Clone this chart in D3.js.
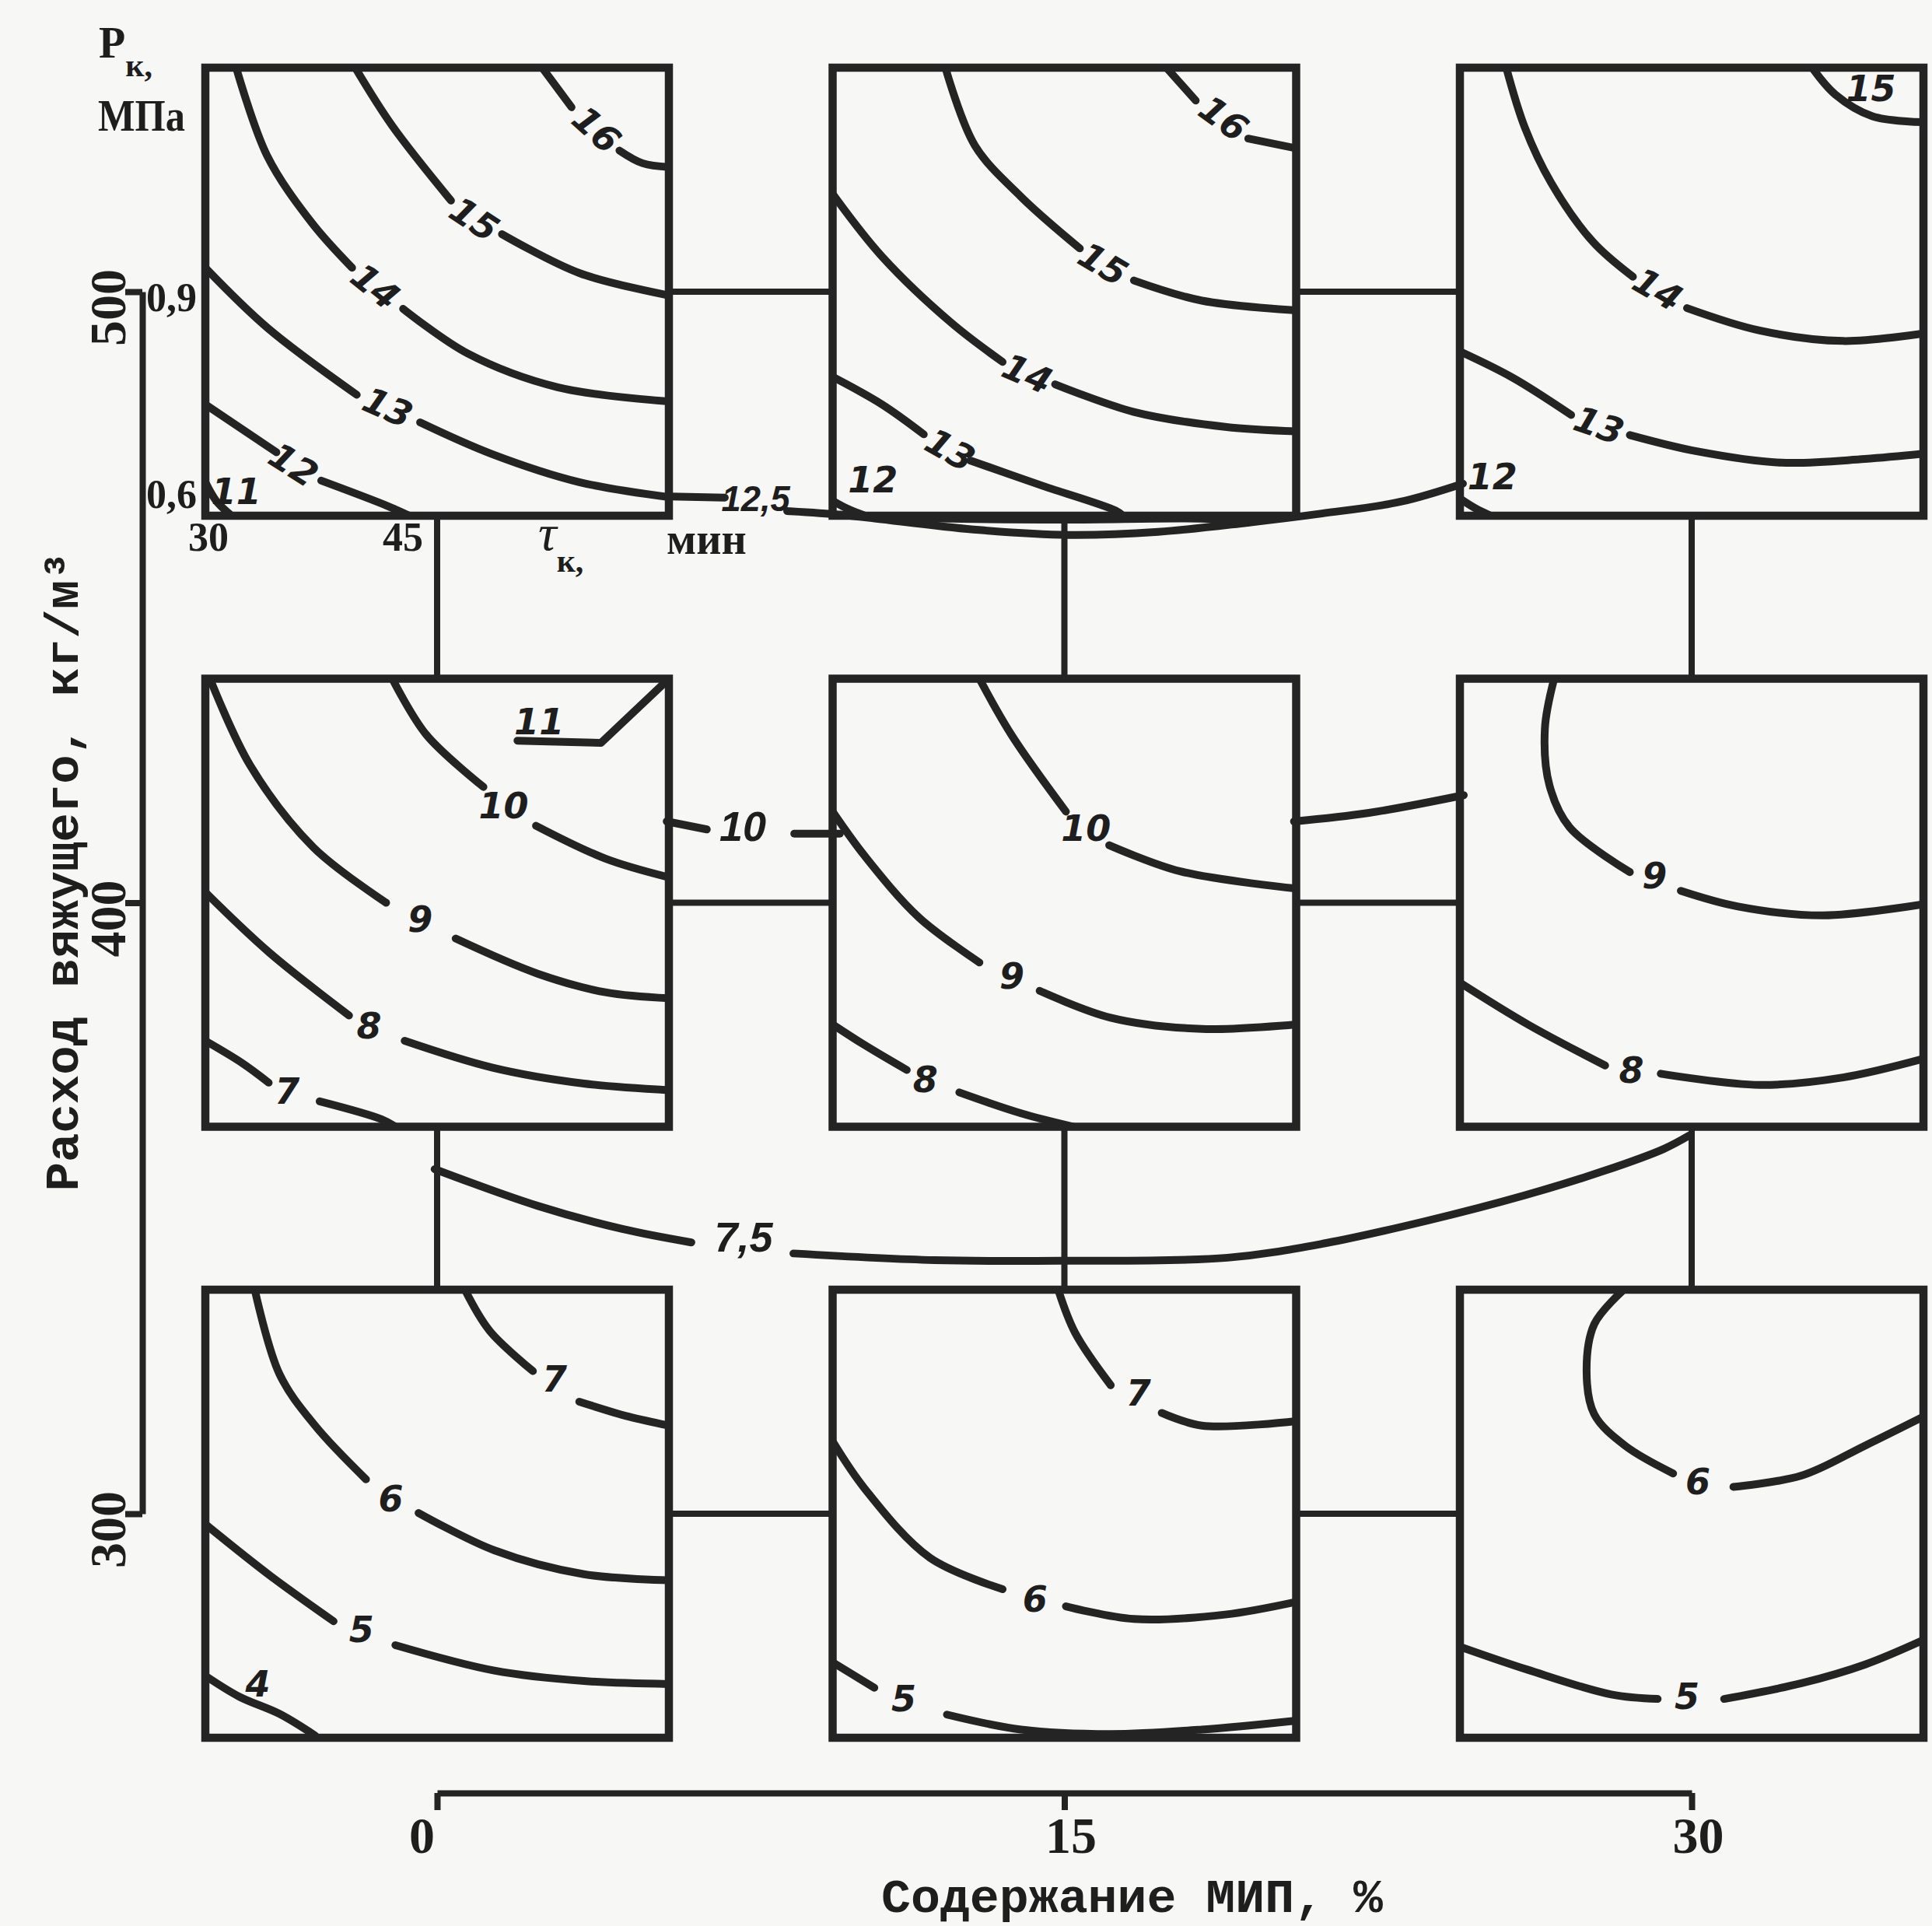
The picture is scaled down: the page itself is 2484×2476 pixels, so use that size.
<!DOCTYPE html>
<meta charset="utf-8">
<style>
body { margin: 0; background: #f7f7f5; }
svg { display: block; }
.frame { fill: none; stroke: #242424; stroke-width: 10.5; }
.iso { fill: none; stroke: #242424; stroke-width: 10; stroke-linecap: round; stroke-linejoin: round; }
.link { fill: none; stroke: #242424; stroke-width: 10; stroke-linecap: round; stroke-linejoin: round; }
.grid { stroke: #242424; stroke-width: 8; }
.axis .domain, .axis line { stroke: #242424; stroke-width: 8; }
text { fill: #1e1e1e; }
.num { font: italic bold 46px "DejaVu Sans"; }
.num-big { font-family: "Liberation Sans"; font-style: italic; font-weight: bold; font-size: 54px; }
.tick { font: bold 66px "Liberation Serif"; }
.ptick { font: bold 52px "Liberation Serif"; }
.title { font: bold 62px "Liberation Mono"; }
</style>
<svg width="2484" height="2476"></svg>
<script src="https://d3js.org/d3.v7.min.js"></script>
<script>

// outer grid: МИП content (%) across, binder consumption (kg/m3) down
var mipLevels = [0, 15, 30];
var binderLevels = [500, 400, 300];

// inner axes of every panel: tau_k (min) and P_k (MPa)
var tauTicks = [30, 45];
var presTicks = [0.9, 0.6];

// isolines per panel: points [tau, P] before the label (a) and after it (b)
var iso_500_0 = [
  {v: "11", a: [[30, 0.645], [30.7, 0.62], [31.7, 0.6]], at: [32.0, 0.632]},
  {v: "12", a: [[30, 0.749], [34.6, 0.685]], at: [35.7, 0.668], b: [[37.5, 0.647], [41.8, 0.613], [43.2, 0.6]]},
  {v: "13", a: [[30, 0.932], [34.0, 0.852], [39.8, 0.762]], at: [41.8, 0.745], b: [[43.9, 0.725], [48.5, 0.683], [54.2, 0.645], [60, 0.625]]},
  {v: "14", a: [[32.0, 1.2], [34.0, 1.082], [36.9, 0.992], [39.5, 0.932]], at: [41.0, 0.907], b: [[42.8, 0.877], [47.0, 0.817], [52.8, 0.772], [60, 0.753]]},
  {v: "15", a: [[39.7, 1.2], [42.1, 1.122], [45.9, 1.022]], at: [47.4, 0.997], b: [[49.2, 0.977], [54.2, 0.925], [60, 0.895]]},
  {v: "16", a: [[51.8, 1.2], [53.7, 1.147]], at: [55.3, 1.117], b: [[56.8, 1.089], [58.3, 1.072], [60, 1.067]]}
];
var iso_500_15 = [
  {v: "12", a: [[30, 0.62], [31, 0.609], [32.1, 0.6]], at: [32.6, 0.648]},
  {v: "13", a: [[30, 0.786], [33.2, 0.749], [35.9, 0.709]], at: [37.6, 0.688], b: [[38.9, 0.674], [43.6, 0.64], [48.3, 0.607], [48.8, 0.6]]},
  {v: "14", a: [[30, 1.031], [33.2, 0.947], [37.7, 0.858], [41.0, 0.806]], at: [42.6, 0.79], b: [[44.4, 0.776], [49.5, 0.739], [55.4, 0.719], [60, 0.713]]},
  {v: "15", a: [[37.3, 1.2], [39.2, 1.096], [42.2, 1.027], [46.0, 0.958]], at: [47.5, 0.937], b: [[49.5, 0.915], [53.9, 0.888], [60, 0.875]]},
  {v: "16", a: [[51.6, 1.2], [53.5, 1.156]], at: [55.3, 1.132], b: [[56.9, 1.105], [60, 1.092]]}
];
var iso_500_30 = [
  {v: "12", a: [[30, 0.623], [31, 0.61], [32, 0.6]], at: [32.1, 0.652]},
  {v: "13", a: [[30, 0.82], [33.4, 0.785], [37.2, 0.735]], at: [39.0, 0.721], b: [[41.0, 0.708], [45.4, 0.686], [50.8, 0.671], [56.2, 0.676], [60, 0.683]]},
  {v: "14", a: [[33, 1.2], [34.2, 1.12], [35.9, 1.046], [38.6, 0.967], [41.2, 0.92]], at: [42.8, 0.903], b: [[44.7, 0.878], [49.4, 0.848], [54.8, 0.834], [60, 0.844]]},
  {v: "15", a: [[52.8, 1.2], [54.3, 1.164], [56.7, 1.135], [60, 1.127]], at: [56.6, 1.172]}
];
var iso_400_0 = [
  {v: "7", a: [[30, 0.715], [32.4, 0.685], [34.1, 0.659]], at: [35.3, 0.647], b: [[37.4, 0.634], [41.4, 0.61], [42.3, 0.6]]},
  {v: "8", a: [[30, 0.914], [34.1, 0.834], [39.3, 0.749]], at: [40.6, 0.735], b: [[42.9, 0.715], [48.6, 0.679], [54.4, 0.658], [60, 0.649]]},
  {v: "9", a: [[30.3, 1.2], [32.9, 1.084], [37.0, 0.974], [41.7, 0.9]], at: [43.9, 0.878], b: [[46.2, 0.852], [51.5, 0.805], [55.9, 0.78], [60, 0.772]]},
  {v: "10", a: [[42.1, 1.2], [44.3, 1.125], [48.0, 1.055]], at: [49.3, 1.03], b: [[51.4, 1.003], [55.9, 0.959], [60, 0.934]]},
  {v: "11", a: [[50.2, 1.117], [55.6, 1.114], [60, 1.2]], at: [51.6, 1.142], straight: true}
];
var iso_400_15 = [
  {v: "8", a: [[30, 0.737], [32.1, 0.709], [34.8, 0.676]], at: [36.0, 0.663], b: [[38.2, 0.646], [42.2, 0.618], [45.6, 0.6]]},
  {v: "9", a: [[30, 1.022], [32.1, 0.962], [35.6, 0.88], [39.5, 0.82]], at: [41.6, 0.802], b: [[43.4, 0.782], [48.0, 0.746], [53.9, 0.731], [60, 0.737]]},
  {v: "10", a: [[39.5, 1.2], [41.6, 1.124], [45.1, 1.022]], at: [46.4, 1.0], b: [[47.9, 0.977], [52.5, 0.942], [60, 0.919]]}
];
var iso_400_30 = [
  {v: "8", a: [[30, 0.793], [34.4, 0.737], [39.4, 0.682]], at: [41.1, 0.676], b: [[43.0, 0.671], [49.4, 0.656], [54.8, 0.666], [60, 0.691]]},
  {v: "9", a: [[36.1, 1.2], [35.5, 1.133], [35.8, 1.057], [37.1, 1.001], [41.0, 0.941]], at: [42.6, 0.936], b: [[44.3, 0.916], [48.0, 0.895], [53.5, 0.883], [60, 0.898]]}
];
var iso_300_0 = [
  {v: "4", a: [[30, 0.683], [32.2, 0.655], [34.8, 0.632], [37.1, 0.603]], at: [33.4, 0.672]},
  {v: "5", a: [[30, 0.886], [34.2, 0.817], [38.3, 0.756]], at: [40.1, 0.745], b: [[42.3, 0.724], [48.7, 0.69], [54.5, 0.676], [60, 0.672]]},
  {v: "6", a: [[33.2, 1.2], [34.8, 1.087], [37.1, 1.018], [40.4, 0.946]], at: [42.0, 0.92], b: [[43.8, 0.901], [48.7, 0.851], [54.5, 0.819], [60, 0.811]]},
  {v: "7", a: [[46.8, 1.2], [48.4, 1.145], [51.2, 1.091]], at: [52.6, 1.08], b: [[54.2, 1.05], [57.4, 1.03], [60, 1.018]]}
];
var iso_300_15 = [
  {v: "5", a: [[30, 0.701], [32.7, 0.667]], at: [34.6, 0.652], b: [[37.4, 0.631], [42.2, 0.611], [48.0, 0.605], [53.9, 0.611], [60, 0.623]]},
  {v: "6", a: [[30, 0.997], [32.1, 0.933], [36.3, 0.841], [41.0, 0.799]], at: [43.1, 0.785], b: [[45.1, 0.776], [49.5, 0.759], [55.4, 0.765], [60, 0.782]]},
  {v: "7", a: [[44.6, 1.2], [45.7, 1.142], [48.0, 1.072]], at: [49.8, 1.061], b: [[51.3, 1.035], [53.9, 1.018], [60, 1.024]]}
];
var iso_300_30 = [
  {v: "5", a: [[30, 0.722], [34.4, 0.691], [39.8, 0.658], [42.8, 0.652]], at: [44.7, 0.655], b: [[47.1, 0.652], [52.1, 0.673], [56.2, 0.698], [60, 0.731]]},
  {v: "6", a: [[40.6, 1.2], [38.7, 1.154], [38.2, 1.09], [38.7, 1.033], [40.7, 0.991], [43.8, 0.954]], at: [45.4, 0.943], b: [[47.7, 0.936], [52.1, 0.951], [56.2, 0.991], [60, 1.03]]}
];

// lines drawn between panels, points in [МИП %, binder kg/m3]
var link_12_5 = {v: "12,5", a: [[5.56, 466.5], [6.88, 466.3]], at: [7.62, 466.1],
  b: [[8.37, 464.1], [9.65, 463.5], [10.82, 462.6], [12.96, 461.0], [15.1, 460.2], [17.24, 460.7], [19.38, 462.2], [21.16, 463.7], [23.02, 465.6], [24.53, 468.6]]};
var link_12_5_upper = [[9.65, 463.5], [12.0, 462.9], [15.0, 462.7], [18.5, 462.8], [19.38, 462.2]];
var link_10 = {v: "10", a: [[5.49, 413.3], [6.45, 412.0]], at: [7.31, 412.6], b: [[8.54, 411.3], [9.63, 411.3]]};
var link_10_right = [[20.49, 413.3], [22.28, 414.7], [24.55, 417.6]];
var link_7_5 = {v: "7,5", a: [[-0.06, 356.4], [2.4, 350.4], [4.43, 346.6], [6.08, 344.4]], at: [7.33, 345.3],
  b: [[8.52, 342.6], [11.9, 341.5], [14.92, 341.4], [18.9, 341.9], [21.26, 344.3], [23.64, 347.9], [26.0, 352.1], [27.9, 356.1], [29.33, 359.7], [29.94, 361.9]]};

var panels = [
  [0, 500, iso_500_0], [15, 500, iso_500_15], [30, 500, iso_500_30],
  [0, 400, iso_400_0], [15, 400, iso_400_15], [30, 400, iso_400_30],
  [0, 300, iso_300_0], [15, 300, iso_300_15], [30, 300, iso_300_30]
];

var svg = d3.select("svg");
svg.append("rect").attr("width", 2484).attr("height", 2476).attr("fill", "#f7f7f5");

var X = d3.scaleLinear().domain([0, 30]).range([562, 2175]);
var Y = d3.scaleLinear().domain([300, 500]).range([1946, 375]);
var PW = 596, PH = 576;
var tau = d3.scaleLinear().domain([30, 60]).range([0, PW]);
var pres = d3.scaleLinear().domain([0.6, 1.2]).range([PH, 0]);

var smooth = d3.line().curve(d3.curveCatmullRom.alpha(0.5));
var straight = d3.line();

// grid connectors through the panel centres
binderLevels.forEach(function(b) {
  for (var c = 0; c < mipLevels.length - 1; c++) {
    svg.append("line").attr("class", "grid")
      .attr("x1", X(mipLevels[c]) + PW / 2).attr("x2", X(mipLevels[c + 1]) - PW / 2)
      .attr("y1", Y(b)).attr("y2", Y(b));
  }
});
mipLevels.forEach(function(m) {
  for (var r = 0; r < binderLevels.length - 1; r++) {
    svg.append("line").attr("class", "grid")
      .attr("x1", X(m)).attr("x2", X(m))
      .attr("y1", Y(binderLevels[r]) + PH / 2).attr("y2", Y(binderLevels[r + 1]) - PH / 2);
  }
});

// interpolation lines between panels
var outer = function(p) { return [X(p[0]), Y(p[1])]; };
[link_12_5, link_10, link_7_5].forEach(function(d) {
  [d.a, d.b].forEach(function(s) {
    svg.append("path").attr("class", "link").attr("d", smooth(s.map(outer)));
  });
  var t = svg.append("text").attr("class", "num-big")
    .attr("x", X(d.at[0])).attr("y", Y(d.at[1]))
    .attr("text-anchor", "middle").attr("dominant-baseline", "central")
    .text(d.v);
  // shrink the label if it is wider than the gap left in the line
  var room = X(d.b[0][0]) - X(d.a[d.a.length - 1][0]) + 8;
  var len = t.node().getComputedTextLength();
  if (len > room) t.style("font-size", (54 * room / len).toFixed(1) + "px");
});
[link_12_5_upper, link_10_right].forEach(function(s) {
  svg.append("path").attr("class", "link").attr("d", smooth(s.map(outer)));
});

// panels
panels.forEach(function(p, i) {
  var g = svg.append("g")
    .attr("transform", "translate(" + (X(p[0]) - PW / 2) + "," + (Y(p[1]) - PH / 2) + ")");
  g.append("clipPath").attr("id", "clip" + i)
    .append("rect").attr("width", PW).attr("height", PH);
  var inner = g.append("g").attr("clip-path", "url(#clip" + i + ")");
  var px = function(q) { return [tau(q[0]), pres(q[1])]; };

  p[2].forEach(function(d) {
    [d.a, d.b].forEach(function(s) {
      if (!s || s.length < 2) return;
      inner.append("path").attr("class", "iso")
        .attr("d", (d.straight ? straight : smooth)(s.map(px)));
    });
    var angle = 0;
    if (p[1] === 500 && d.b) {
      var u = px(d.a[d.a.length - 1]), w = px(d.b[0]);
      angle = Math.atan2(w[1] - u[1], w[0] - u[0]) * 180 / Math.PI;
    }
    var c = px(d.at);
    g.append("text").attr("class", "num")
      .attr("transform", "translate(" + c[0] + "," + c[1] + ") rotate(" + angle + ")")
      .attr("text-anchor", "middle").attr("dominant-baseline", "central")
      .text(d.v);
  });

  g.append("rect").attr("class", "frame").attr("width", PW).attr("height", PH);

  // inner axis labels only on the first panel
  if (i === 0) {
    presTicks.forEach(function(v) {
      g.append("text").attr("class", "ptick")
        .attr("x", -11).attr("y", Math.min(pres(v) + 25, PH - 10))
        .attr("text-anchor", "end")
        .text(String(v).replace(".", ","));
    });
    tauTicks.forEach(function(v, k) {
      g.append("text").attr("class", "ptick")
        .attr("x", k === 0 ? tau(v) - 22 : tau(v) - 18).attr("y", PH + 45)
        .attr("text-anchor", k === 0 ? "start" : "end")
        .text(v);
    });
    var tl = g.append("text").attr("x", 428).attr("y", PH + 44);
    tl.append("tspan").style("font", "italic 66px 'Liberation Serif'").text("τ");
    tl.append("tspan").attr("dy", 28).style("font", "bold 42px 'Liberation Serif'").text("к,");
    g.append("text").attr("x", 593).attr("y", PH + 49)
      .style("font", "bold 56px 'Liberation Serif'").text("мин");
  }
});

// outer axes
var yAxis = svg.append("g").attr("class", "axis").attr("transform", "translate(183,0)")
  .call(d3.axisLeft(Y).tickValues(binderLevels).tickSize(22).tickSizeOuter(0));
yAxis.selectAll("text").attr("class", "tick")
  .attr("x", 0).attr("dy", null).attr("y", 0)
  .attr("text-anchor", "middle")
  .attr("transform", "translate(-22,20) rotate(-90)");

var xAxis = svg.append("g").attr("class", "axis").attr("transform", "translate(0,2305)")
  .call(d3.axisBottom(X).tickValues(mipLevels).tickSize(22).tickSizeOuter(0));
xAxis.selectAll("text").attr("class", "tick").attr("y", 30)
  .attr("dx", function(d) { return d === 0 ? -20 : 8; });
svg.selectAll(".axis text").style("fill", "#1e1e1e");

svg.append("text").attr("class", "title")
  .attr("x", 1133).attr("y", 2458).attr("textLength", 645).attr("lengthAdjust", "spacingAndGlyphs")
  .text("Содержание МИП, %");
svg.append("text").attr("class", "title")
  .attr("transform", "translate(100,1120) rotate(-90)")
  .attr("text-anchor", "middle").attr("textLength", 823).attr("lengthAdjust", "spacingAndGlyphs")
  .text("Расход вяжущего, кг/м³");

var pk = svg.append("text").attr("x", 127).attr("y", 74);
pk.append("tspan").style("font", "bold 56px 'Liberation Serif'").text("Р");
pk.append("tspan").attr("dy", 24).style("font", "bold 42px 'Liberation Serif'").text("к,");
svg.append("text").attr("x", 126).attr("y", 168)
  .attr("textLength", 112).attr("lengthAdjust", "spacingAndGlyphs")
  .style("font", "bold 58px 'Liberation Serif'").text("МПа");

</script>
